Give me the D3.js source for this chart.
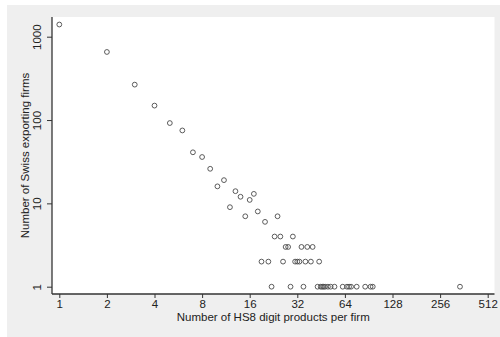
<!DOCTYPE html>
<meta charset="utf-8">
<style>
  body { margin: 0; background: #fff; }
  text { font-family: "Liberation Sans", Arial, sans-serif; fill: #222; }
</style>
<script src="https://d3js.org/d3.v7.min.js"></script>
<svg id="chart" width="500" height="337"></svg>
<script>

// number of HS8 products per firm, and number of firms with that count
var products = [1, 2, 3, 4, 5, 6, 7, 8, 9, 10, 11, 12, 13, 14, 15, 16, 17, 18, 20, 24,
  23, 25, 30,
  27, 28, 34, 37, 40,
  19, 21, 26, 31, 32, 33, 36, 39, 44,
  22, 29, 35, 43, 45, 46, 47, 48, 50, 52, 55, 62, 66, 68, 70, 76, 86, 93, 96, 342];
var firms = [1400, 656, 266, 149, 92, 75, 41, 36, 26, 16, 19, 9, 14, 12, 7, 11, 13, 8, 6, 7,
  4, 4, 4,
  3, 3, 3, 3, 3,
  2, 2, 2, 2, 2, 2, 2, 2, 2,
  1, 1, 1, 1, 1, 1, 1, 1, 1, 1, 1, 1, 1, 1, 1, 1, 1, 1, 1, 1];
var xTicks = [1, 2, 4, 8, 16, 32, 64, 128, 256, 512];
var yTicks = [1, 10, 100, 1000];

var data = products.map(function(p, i) { return {x: p, y: firms[i]}; });

var svg = d3.select("#chart");

// plot region
var plot = {left: 52, right: 494.5, top: 17, bottom: 294};

// outer gray background
svg.append("rect")
  .attr("x", 7).attr("y", 5)
  .attr("width", 493).attr("height", 332)
  .attr("fill", "#efefef");

svg.append("rect")
  .attr("x", plot.left).attr("y", plot.top)
  .attr("width", plot.right - plot.left).attr("height", plot.bottom - plot.top)
  .attr("fill", "#fff");

var x = d3.scaleLog().base(2)
  .domain([1, 512])
  .range([59.3, 487.7]);

var y = d3.scaleLog()
  .domain([1, 1000])
  .range([286.7, 36.7]);

// X axis
var xAxis = svg.append("g")
  .attr("transform", "translate(0," + plot.bottom + ")")
  .call(d3.axisBottom(x).tickValues(xTicks).tickFormat(d3.format("d")).tickSize(4).tickSizeOuter(0));
xAxis.select(".domain").attr("d", "M" + plot.left + ",0H" + plot.right);

// Y axis
var yAxis = svg.append("g")
  .attr("transform", "translate(" + plot.left + ",0)")
  .call(d3.axisLeft(y).tickValues(yTicks).tickFormat(d3.format("d")).tickSize(5).tickSizeOuter(0));
yAxis.select(".domain").attr("d", "M0," + plot.top + "V" + plot.bottom);

svg.selectAll(".domain").attr("stroke", "#333").attr("stroke-width", 1.3);
svg.selectAll(".tick line").attr("stroke", "#333").attr("stroke-width", 1);
svg.selectAll(".tick text")
  .style("font-family", "'Liberation Sans', Arial, sans-serif")
  .style("font-size", "11.5px")
  .attr("fill", "#222");

xAxis.selectAll(".tick text").attr("dy", "0.75em").attr("y", 5);

// rotated y tick labels, Stata style
yAxis.selectAll(".tick text")
  .attr("x", 0).attr("dy", 0)
  .attr("text-anchor", "middle")
  .attr("transform", "translate(-11,0) rotate(-90)");

// points
svg.append("g")
  .selectAll("circle")
  .data(data)
  .enter()
  .append("circle")
    .attr("cx", function(d) { return x(d.x); })
    .attr("cy", function(d) { return y(d.y); })
    .attr("r", 2.4)
    .attr("fill", "none")
    .attr("stroke", "#4a4a4a")
    .attr("stroke-width", 0.9);

// axis titles
svg.append("text")
  .attr("x", (plot.left + plot.right) / 2)
  .attr("y", 321)
  .attr("text-anchor", "middle")
  .style("font-size", "11.5px")
  .text("Number of HS8 digit products per firm");

svg.append("text")
  .attr("transform", "translate(29," + ((plot.top + plot.bottom) / 2) + ") rotate(-90)")
  .attr("text-anchor", "middle")
  .style("font-size", "11.5px")
  .text("Number of Swiss exporting firms");

</script>
